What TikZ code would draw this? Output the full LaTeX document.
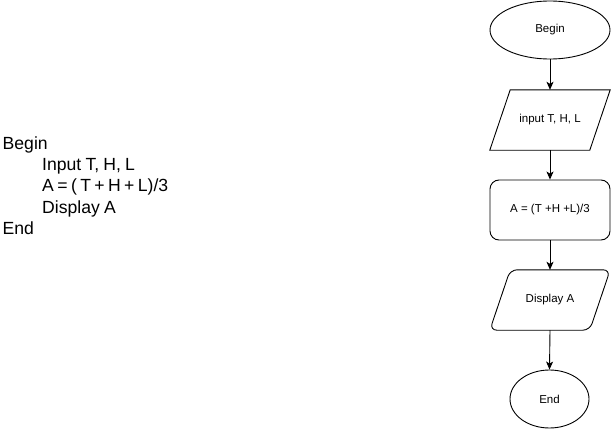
\documentclass[tikz,border=0pt]{standalone}
\usepackage{fontspec}
\setmainfont{Liberation Sans}
\usetikzlibrary{shapes.geometric,arrows.meta}
\newcommand\mycodefont{\fontsize{17.6}{21}\selectfont\setlength{\spaceskip}{4.2pt}}
\newcommand\mytightfont{\fontsize{17.6}{21}\selectfont\setlength{\spaceskip}{3.4pt}}
\begin{document}
\begin{tikzpicture}[x=1pt,y=-1pt,
  lw/.style={line width=0.9pt},
  term/.style={ellipse,draw,lw,inner sep=0pt,font=\fontsize{11.5}{13}\selectfont},
  box/.style={rectangle,inner sep=0pt,minimum width=120pt,minimum height=60pt,font=\fontsize{11.5}{13}\selectfont},
  arr/.style={lw,-{Stealth[length=8pt,width=7pt,inset=2pt]}},
  code/.style={anchor=base west,inner sep=0pt,font=\mycodefont}]
\useasboundingbox (0,0) rectangle (611,431);
% pseudocode
\node[code] (c1) at (2.5,149) {Begin};
\node[code] (c2) at (42,170.4) {Input T, H, L};
\node[code,font=\mytightfont] (c3) at (42,191.8) {A = ( T + H + L)/3};
\node[code] (c4) at (42,213.2) {Display A};
\node[code] (c5) at (2.5,234.6) {End};
% flowchart
\node[term,minimum width=120pt,minimum height=58pt] (begin) at (550,30) {Begin};
\node[box] (inp) at (550,120) {input T, H, L};
\draw[lw] (inp.south west) -- ([xshift=100pt]inp.south west) -- (inp.north east) -- ([xshift=-100pt]inp.north east) -- cycle;
\node[box,draw,lw,rounded corners=9pt] (calc) at (550,210) {A = (T +H +L)/3};
\node[box] (disp) at (550,300) {Display A};
\draw[lw,rounded corners=7pt] (disp.south west) -- ([xshift=100pt]disp.south west) -- (disp.north east) -- ([xshift=-100pt]disp.north east) -- cycle;
\node[term,minimum width=79pt,minimum height=58pt] (end) at (549.5,399) {End};
\draw[arr] (begin.south) -- (inp.north);
\draw[arr] (inp.south) -- (calc.north);
\draw[arr] (calc.south) -- (disp.north);
\draw[arr] (disp.south) -- (end.north);
\end{tikzpicture}
\end{document}
